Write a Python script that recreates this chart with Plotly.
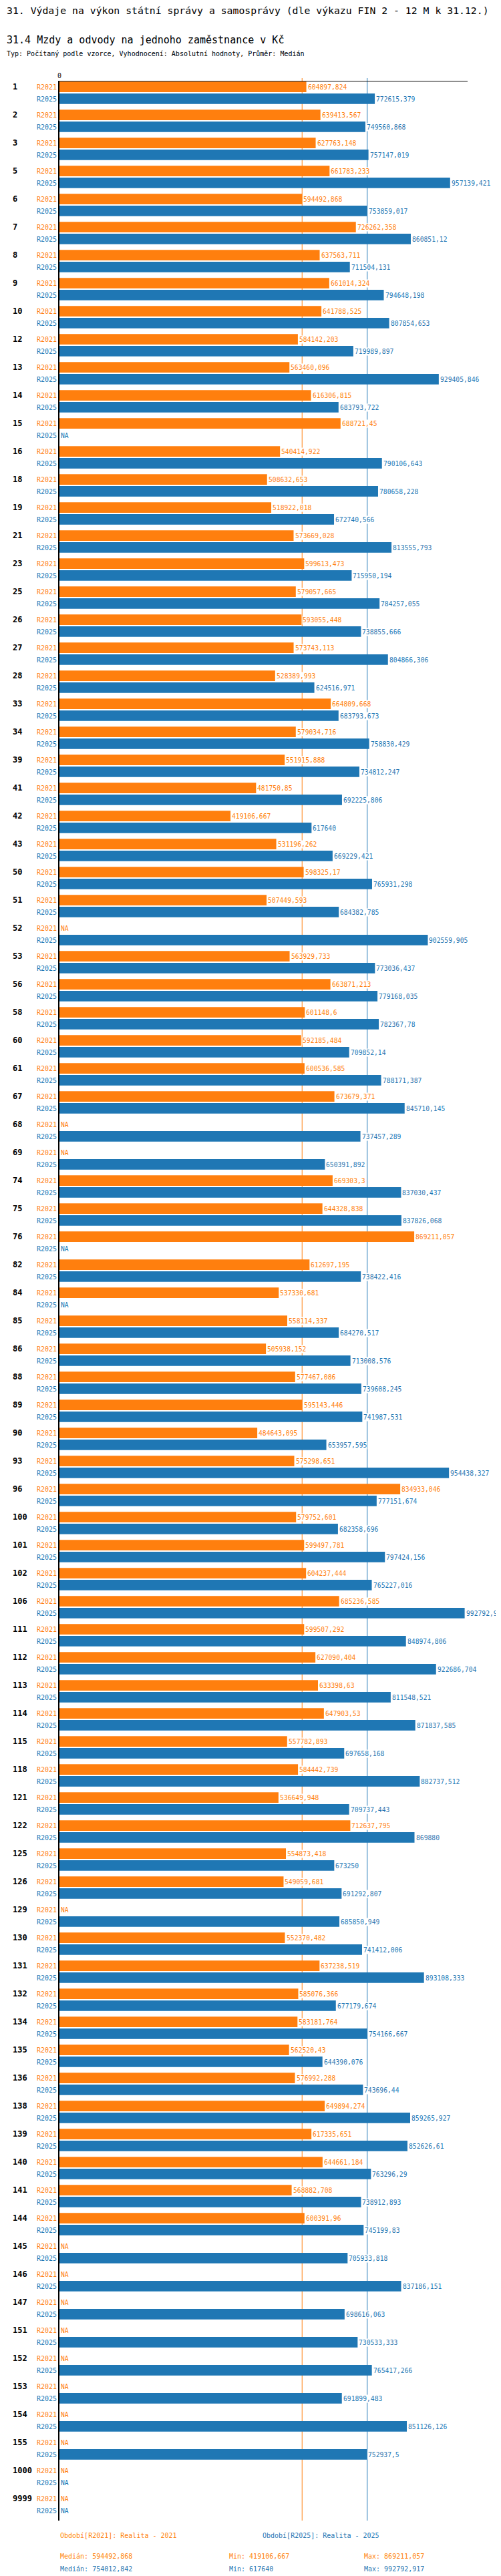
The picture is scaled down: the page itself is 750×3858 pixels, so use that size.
import numpy as np
import plotly.graph_objects as go

CATEGORIES = [
    "1", "2", "3", "5", "6", "7", "8", "9", "10", "12", "13", "14", "15", "16",
    "18", "19", "21", "23", "25", "26", "27", "28", "33", "34", "39", "41", "42",
    "43", "50", "51", "52", "53", "56", "58", "60", "61", "67", "68", "69", "74",
    "75", "76", "82", "84", "85", "86", "88", "89", "90", "93", "96", "100", "101",
    "102", "106", "111", "112", "113", "114", "115", "118", "121", "122", "125",
    "126", "129", "130", "131", "132", "134", "135", "136", "138", "139", "140",
    "141", "144", "145", "146", "147", "151", "152", "153", "154", "155", "1000",
    "9999",
]

R2021 = [
    604897.824, 639413.567, 627763.148, 661783.233, 594492.868, 726262.358,
    637563.711, 661014.324, 641788.525, 584142.203, 563460.096, 616306.815,
    688721.45, 540414.922, 508632.653, 518922.018, 573669.028, 599613.473,
    579057.665, 593055.448, 573743.113, 528389.993, 664809.668, 579034.716,
    551915.888, 481750.85, 419106.667, 531196.262, 598325.17, 507449.593,
    None, 563929.733, 663871.213, 601148.6, 592185.484, 600536.585,
    673679.371, None, None, 669303.3, 644328.838, 869211.057,
    612697.195, 537330.681, 558114.337, 505938.152, 577467.086, 595143.446,
    484643.095, 575298.651, 834933.046, 579752.601, 599497.781, 604237.444,
    685236.585, 599507.292, 627090.404, 633398.63, 647903.53, 557782.893,
    584442.739, 536649.948, 712637.795, 554873.418, 549059.681, None,
    552370.482, 637238.519, 585076.366, 583181.764, 562520.43, 576992.288,
    649894.274, 617335.651, 644661.184, 568882.708, 600391.96, None,
    None, None, None, None, None, None,
    None, None, None,
]

R2025 = [
    772615.379, 749560.868, 757147.019, 957139.421, 753859.017, 860851.12,
    711504.131, 794648.198, 807854.653, 719989.897, 929405.846, 683793.722,
    None, 790106.643, 780658.228, 672740.566, 813555.793, 715950.194,
    784257.055, 738855.666, 804866.306, 624516.971, 683793.673, 758830.429,
    734812.247, 692225.806, 617640, 669229.421, 765931.298, 684382.785,
    902559.905, 773036.437, 779168.035, 782367.78, 709852.14, 788171.387,
    845710.145, 737457.289, 650391.892, 837030.437, 837826.068, None,
    738422.416, None, 684270.517, 713008.576, 739608.245, 741987.531,
    653957.595, 954438.327, 777151.674, 682358.696, 797424.156, 765227.016,
    992792.917, 848974.806, 922686.704, 811548.521, 871837.585, 697658.168,
    882737.512, 709737.443, 869880, 673250, 691292.807, 685850.949,
    741412.006, 893108.333, 677179.674, 754166.667, 644390.076, 743696.44,
    859265.927, 852626.61, 763296.29, 738912.893, 745199.83, 705933.818,
    837186.151, 698616.063, 730533.333, 765417.266, 691899.483, 851126.126,
    752937.5, None, None,
]

SERIES = [
    ("R2021", "Období[R2021]: Realita - 2021", R2021, "#ff7f0e"),
    ("R2025", "Období[R2025]: Realita - 2025", R2025, "#1f77b4"),
]

TITLE = "31. Výdaje na výkon státní správy a samosprávy (dle výkazu FIN 2 - 12 M k 31.12.)"
SUBTITLE = "31.4 Mzdy a odvody na jednoho zaměstnance v Kč"
INFO = "Typ: Počítaný podle vzorce, Vyhodnocení: Absolutní hodnoty, Průměr: Medián"

MONO = "DejaVu Sans Mono"
W, H = 750, 3858
L, R, T = 81, 58, 114
PW = W - L - R
PH = 3653


def fmt(v):
    if v is None:
        return "NA"
    whole, dec = f"{v:.3f}".split(".")
    dec = dec.rstrip("0")
    return whole + ("," + dec if dec else "")


def px_x(x):
    return (x - L) / PW


def px_y(y):
    return (T + PH - y) / PH


def text(x, y, s, size=10, color="black"):
    return dict(
        text=s, x=px_x(x), y=px_y(y), xref="paper", yref="paper",
        xanchor="left", yanchor="middle", showarrow=False,
        font=dict(family=MONO, size=size, color=color),
    )


fig = go.Figure()
annotations = [
    text(0, 8, TITLE, 14.8),
    text(0, 52, SUBTITLE, 15),
    text(0, 73, INFO, 10),
]
shapes = []

# category axis: annotation positions are given as category index
for k, (key, legend, values, color) in enumerate(SERIES):
    fig.add_trace(go.Bar(
        y=CATEGORIES, x=values, orientation="h", name=key,
        marker=dict(color=color, line=dict(width=0)),
        hoverinfo="x+y",
    ))
    shift = 9 if k == 0 else -9
    for i, v in enumerate(values):
        annotations.append(dict(
            text=key, x=0, y=i, xref="x", yref="y", xanchor="right",
            xshift=-2, yshift=shift, showarrow=False,
            font=dict(family=MONO, size=10, color=color),
        ))
        annotations.append(dict(
            text=fmt(v), x=v if v is not None else 0, y=i, xref="x", yref="y",
            xanchor="left", xshift=1, yshift=shift, showarrow=False,
            bgcolor="white", borderpad=0,
            font=dict(family=MONO, size=9.7, color=color),
        ))

    arr = np.array([np.nan if v is None else v for v in values], dtype=float)
    med, lo, hi = np.nanmedian(arr), np.nanmin(arr), np.nanmax(arr)
    shapes.append(dict(
        type="line", xref="x", yref="paper", x0=med, x1=med, y0=0,
        y1=1 + 5 / PH, line=dict(color=color, width=1), layer="below",
    ))
    annotations.append(text(80 if k == 0 else 383, 3790, legend, 10, color))
    row_y = 3820 if k == 0 else 3840
    annotations.append(text(80, row_y, "Medián: " + fmt(float(med)), 10, color))
    annotations.append(text(333, row_y, "Min: " + fmt(float(lo)), 10, color))
    annotations.append(text(535, row_y, "Max: " + fmt(float(hi)), 10, color))

for i, cat in enumerate(CATEGORIES):
    annotations.append(dict(
        text=f"<b>{cat}</b>", x=px_x(9), y=i, xref="paper", yref="y",
        xanchor="left", yshift=9, showarrow=False,
        font=dict(family=MONO, size=12, color="black"),
    ))

n = len(CATEGORIES)
fig.update_layout(
    width=W, height=H,
    margin=dict(l=L, r=R, t=T, b=H - T - PH, pad=0),
    paper_bgcolor="white", plot_bgcolor="white",
    barmode="group", bargap=0.157, bargroupgap=0.11,
    showlegend=False,
    font=dict(family=MONO, size=10, color="black"),
    annotations=annotations, shapes=shapes,
)
fig.update_xaxes(
    range=[0, 1000000], side="top", showline=True, linecolor="black",
    linewidth=1, showgrid=False, zeroline=False, tickvals=[0], ticktext=["0"],
    ticks="", tickfont=dict(family=MONO, size=10, color="black"),
)
fig.update_yaxes(
    type="category", categoryorder="array", categoryarray=CATEGORIES,
    range=[n - 1 + 0.571, -0.405], showline=True, linecolor="black",
    linewidth=2, showgrid=False, zeroline=False, showticklabels=False, ticks="",
)

fig.write_html("out.html")
